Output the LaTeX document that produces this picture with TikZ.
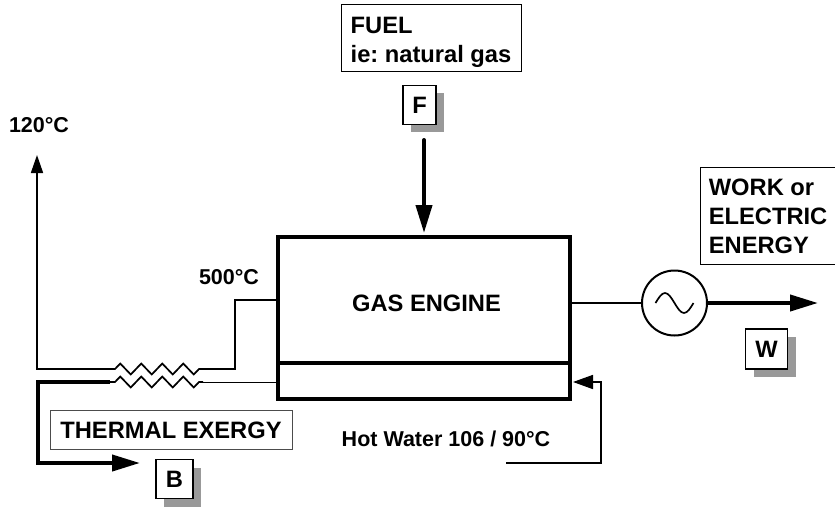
\documentclass[tikz,border=0pt]{standalone}
\usepackage{fontspec}
\setmainfont{Liberation Sans}
\usepackage{tikz}
\usetikzlibrary{arrows.meta, decorations.pathmorphing, positioning, shadows}

\definecolor{tagshadow}{HTML}{999999}
\frenchspacing
\tikzset{
    labeltext/.style={font=\bfseries\fontsize{23.7}{29}\selectfont, align=left},
    temptext/.style={font=\bfseries\fontsize{21.5}{26}\selectfont},
    textbox/.style={labeltext, draw, line width=1pt, inner sep=0pt},
    tagbox/.style={labeltext, draw, fill=white, line width=1.2pt, inner sep=0pt,
        general shadow={fill=tagshadow, shadow xshift=8pt, shadow yshift=-8pt}},
    plant/.style={draw, line width=4pt, inner sep=0pt, outer sep=0pt, minimum width=292pt},
    thinflow/.style={line width=1.7pt},
    thickflow/.style={line width=4pt, -{Triangle[length=28pt,width=16pt]}},
    coil/.style={line width=1.7pt, decorate,
        decoration={zigzag, segment length=21pt, amplitude=5.5pt, pre length=5pt, post length=4pt}}
}

\begin{document}
\begin{tikzpicture}[x=1pt, y=-1pt]
        \useasboundingbox (0,0) rectangle (835,507);

        \node[plant, minimum height=126pt, labeltext] (engine) at (424,300) {\rule{0pt}{23pt}\hspace*{5pt}GAS ENGINE};
        \node[plant, minimum height=36pt] (jacket) [below=0pt of engine] {};

        \node[tagbox, minimum width=33pt, minimum height=39pt] (ftag) [above=112pt of engine, xshift=-4.5pt] {F};
        \node[textbox, minimum width=180pt, minimum height=67pt] (fuel) [above=12.5pt of ftag, xshift=11.5pt] {\rule{0pt}{24pt}FUEL\\ie: natural gas};

        \node[circle, draw, line width=2pt, minimum size=65pt, inner sep=0pt, outer sep=0pt] (gen) [right=72pt of engine, yshift=-3pt] {};
        \node[tagbox, minimum width=42pt, minimum height=40pt] (wtag) [right=38pt of gen, yshift=-46pt] {W};
        \node[textbox, minimum width=135pt, minimum height=97pt] (work) [above=63pt of wtag, xshift=1.5pt] {WORK or\\ELECTRIC\\ENERGY};

        \node[textbox, draw=black!70, minimum width=242pt, minimum height=39pt] (exergy) [below=11pt of jacket, xshift=-253pt] {THERMAL EXERGY};
        \node[tagbox, minimum width=37pt, minimum height=39pt] (btag) [below=9pt of exergy, xshift=3.5pt] {B};

        \node[temptext] (stacktemp) at (39,125) {120°C};
        \node[temptext] (exhausttemp) at (229,277) {500°C};
        \node[temptext] (watertemp) at (446,439) {Hot Water 106 / 90°C};

        \coordinate (zig1) at (110,369);
        \coordinate (zig2) at (203,369);
        \coordinate (zag1) at (110,382);
        \coordinate (zag2) at (203,382);
        \coordinate (stack) at (37,155);
        \coordinate (exergyout) at (140,463);
        \coordinate (fuelin) at (424,140);
        \coordinate (elecout) at (818,303);
        \coordinate (waterin) at (506,463);
        \coordinate (waterturn) at (601,382);

        % exhaust through the exchanger
        \draw[thinflow, line join=miter] (engine.west) -- ++(-43,0) |- (zig2);
        \draw[coil] (zig1) -- (zig2);
        \draw[thinflow, -{Triangle[length=18pt,width=12pt]}] (zig1) -| (stack);

        % recovered heat
        \draw[coil] (zag1) -- (zag2);
        \draw[line width=1pt] (zag2) -- (zag2 -| jacket.west);
        \draw[thickflow] (zag1) -- (38,382) |- (exergyout);

        \draw[thickflow, line cap=round, shorten >=4pt] (fuelin) -- (engine.north);

        \draw[thinflow] (engine.east |- gen.west) -- (gen.west);
        \draw[thickflow] (gen.east) -- (elecout);
        \draw[thinflow, shift={(gen.center)}] (-19,0) sin (-9.5,-10) cos (0,0) sin (9.5,10) cos (19,0);

        \draw[thinflow, -{Triangle[length=20pt,width=14pt]}, shorten >=3pt] (waterin) -| (waterturn) -- (waterturn -| jacket.east);

\end{tikzpicture}
\end{document}
